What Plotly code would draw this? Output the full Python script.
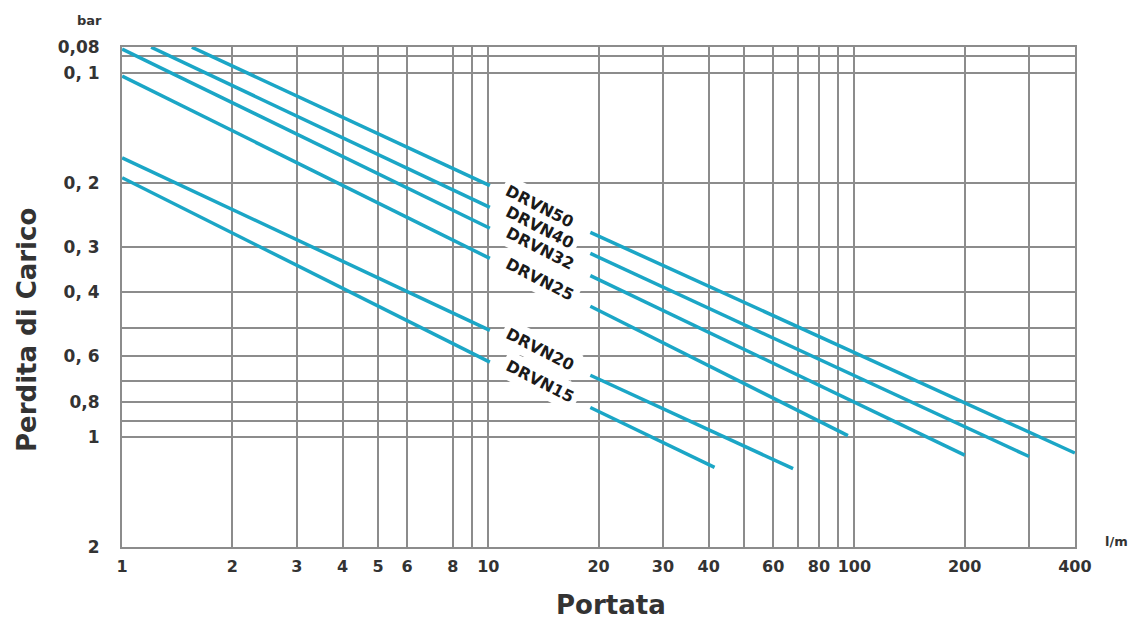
import math
import plotly.graph_objects as go

# Axis ticks / labels
flow_ticks = [1, 2, 3, 4, 5, 6, 8, 9, 10, 20, 30, 40, 50, 60, 70, 80, 90, 100, 200, 300, 400]
flow_labels = ["1", "2", "3", "4", "5", "6", "8", "", "10", "20", "30", "40", "", "60", "", "80", "", "100", "200", "", "400"]
loss_ticks = [0.085, 0.09, 0.1, 0.2, 0.3, 0.4, 0.5, 0.6, 0.7, 0.8, 0.9, 1, 2]
loss_labels = ["0,08", "", "0, 1", "0, 2", "0, 3", "0, 4", "", "0, 6", "", "0,8", "", "1", "2"]

# Series: flow (l/m) and pressure loss (bar) at start, label-gap start, label-gap end, end
series_names = ["DRVN50", "DRVN40", "DRVN32", "DRVN25", "DRVN20", "DRVN15"]
drvn50_q = [1.55, 10.1, 19.0, 400]
drvn50_dp = [0.085, 0.204, 0.274, 1.105]
drvn40_q = [1.2, 10.1, 19.0, 300]
drvn40_dp = [0.085, 0.234, 0.313, 1.13]
drvn32_q = [1.0, 10.1, 19.0, 200]
drvn32_dp = [0.086, 0.267, 0.360, 1.12]
drvn25_q = [1.0, 10.1, 19.0, 96]
drvn25_dp = [0.102, 0.323, 0.437, 0.99]
drvn20_q = [1.0, 10.1, 19.0, 68]
drvn20_dp = [0.171, 0.509, 0.676, 1.22]
drvn15_q = [1.0, 10.1, 19.0, 41.5]
drvn15_dp = [0.194, 0.622, 0.829, 1.21]

series_q = [drvn50_q, drvn40_q, drvn32_q, drvn25_q, drvn20_q, drvn15_q]
series_dp = [drvn50_dp, drvn40_dp, drvn32_dp, drvn25_dp, drvn20_dp, drvn15_dp]

LINE_COLOR = "#1ba6c6"
GRID = "#8c8c8c"
TXT = "#333333"
FONT = "DejaVu Sans"

fig = go.Figure()
masks = []
labels = []
for name, q, dp in zip(series_names, series_q, series_dp):
    fig.add_trace(go.Scatter(
        x=[q[0], q[1], None, q[2], q[3]],
        y=[dp[0], dp[1], None, dp[2], dp[3]],
        mode="lines",
        line=dict(color=LINE_COLOR, width=3.5),
        name=name,
        showlegend=False,
        connectgaps=False,
        hoverinfo="skip",
    ))
    pos = dict(
        x=math.log10(math.sqrt(q[1] * q[2])),
        y=math.log10(math.sqrt(dp[1] * dp[2])),
        xref="x", yref="y",
        text=name,
        showarrow=False,
        textangle=27,
        yshift=3,
    )
    # white band behind the label (hides the grid where the label sits)
    masks.append(dict(pos, bgcolor="white", borderpad=4,
                      font=dict(family=FONT, size=16, color="rgba(0,0,0,0)", weight="bold")))
    labels.append(dict(pos, font=dict(family=FONT, size=16, color="#1a1a1a", weight="bold")))

annotations = masks + labels + [
    dict(text="Perdita di Carico", xref="paper", yref="paper", x=-0.0997, y=0.434,
         textangle=-90, showarrow=False, xanchor="center", yanchor="middle",
         font=dict(family=FONT, size=26, color=TXT, weight="bold")),
    dict(text="Portata", xref="paper", yref="paper", x=0.513, y=-0.116,
         showarrow=False, xanchor="center", yanchor="middle",
         font=dict(family=FONT, size=26, color=TXT, weight="bold")),
    dict(text="bar", xref="paper", yref="paper", x=-0.0336, y=1.052,
         showarrow=False, xanchor="center", yanchor="middle",
         font=dict(family=FONT, size=13, color=TXT, weight="bold")),
    dict(text="l/m", xref="paper", yref="paper", x=1.044, y=0.012,
         showarrow=False, xanchor="center", yanchor="middle",
         font=dict(family=FONT, size=13, color=TXT, weight="bold")),
]

fig.update_layout(
    width=1131, height=622,
    margin=dict(l=122, r=56, t=47, b=75, autoexpand=False),
    paper_bgcolor="white", plot_bgcolor="white",
    annotations=annotations,
    hovermode=False,
    xaxis=dict(
        type="log",
        range=[-0.0004, math.log10(400) + 0.0004],
        tickvals=flow_ticks, ticktext=flow_labels,
        showgrid=True, gridcolor=GRID, gridwidth=2,
        showline=True, linecolor=GRID, linewidth=2, mirror=True,
        ticks="", ticklabelstandoff=4,
        tickfont=dict(family=FONT, size=16, color=TXT, weight="bold"),
        zeroline=False,
    ),
    yaxis=dict(
        type="log",
        range=[math.log10(2) + 0.0004, math.log10(0.0849)],
        tickvals=loss_ticks, ticktext=loss_labels,
        showgrid=True, gridcolor=GRID, gridwidth=2,
        showline=True, linecolor=GRID, linewidth=2, mirror=True,
        ticks="", ticklabelstandoff=17,
        tickfont=dict(family=FONT, size=17, color=TXT, weight="bold"),
        zeroline=False,
    ),
)

fig.write_html("out.html")
